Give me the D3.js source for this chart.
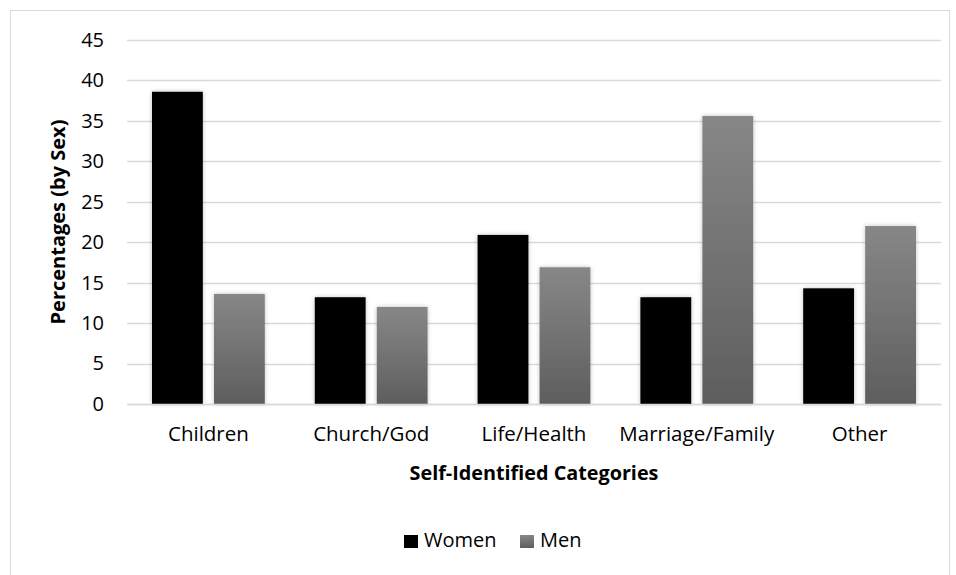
<!DOCTYPE html>
<html>
<head>
<meta charset="utf-8">
<script src="https://cdn.jsdelivr.net/npm/d3@7"></script>
<style>
  body { margin: 0; background: #fff; }
  text { font-family: "Open Sans", sans-serif; fill: #000; }
</style>
</head>
<body>
<script>
// data
var categories = ["Children", "Church/God", "Life/Health", "Marriage/Family", "Other"];
var series = ["Women", "Men"];
var women = [38.6, 13.2, 20.9, 13.2, 14.3];
var men = [13.6, 12.0, 16.9, 35.6, 22.0];
var yTicks = [0, 5, 10, 15, 20, 25, 30, 35, 40, 45];

var width = 956, height = 575;
var margin = {top: 40, right: 15, bottom: 171, left: 127};
var fontFamily = "'Open Sans', sans-serif";

var rows = categories.map(function(c, i) {
  return {category: c, values: [{key: "Women", v: women[i]}, {key: "Men", v: men[i]}]};
});

var svg = d3.select("body").append("svg")
  .attr("width", width)
  .attr("height", height);

var defs = svg.append("defs");
var grad = defs.append("linearGradient")
  .attr("id", "menGrad")
  .attr("x1", 0).attr("y1", 0).attr("x2", 0).attr("y2", 1);
grad.append("stop").attr("offset", "0%").attr("stop-color", "#878787");
grad.append("stop").attr("offset", "100%").attr("stop-color", "#5e5e5e");

var shadow = defs.append("filter").attr("id", "shadow")
  .attr("x", "-20%").attr("y", "-5%").attr("width", "140%").attr("height", "110%");
shadow.append("feDropShadow")
  .attr("dx", 0).attr("dy", 0).attr("stdDeviation", 2)
  .attr("flood-color", "#000").attr("flood-opacity", 0.25);

// chart border
svg.append("rect")
  .attr("x", 10.5).attr("y", 10.5)
  .attr("width", 939).attr("height", 580)
  .attr("fill", "none")
  .attr("stroke", "#d9d9d9");

var x0 = d3.scaleBand()
  .domain(categories)
  .range([margin.left, width - margin.right])
  .paddingInner(0)
  .paddingOuter(0);

var x1 = d3.scaleBand()
  .domain(series)
  .range([25, x0.bandwidth() - 25])
  .paddingInner(0.18);

var y = d3.scaleLinear()
  .domain([0, 45])
  .range([height - margin.bottom, margin.top]);

var color = {Women: "#000", Men: "url(#menGrad)"};

// gridlines
svg.append("g")
  .selectAll("line")
  .data(yTicks)
  .enter()
  .append("line")
  .attr("x1", margin.left)
  .attr("x2", width - margin.right)
  .attr("y1", d => Math.round(y(d)) + 0.5)
  .attr("y2", d => Math.round(y(d)) + 0.5)
  .attr("stroke", "#d9d9d9")
  .attr("stroke-width", 1.5);

// y axis labels
var yAxis = g => g
  .attr("transform", `translate(${margin.left - 23},0)`)
  .call(d3.axisLeft(y).tickValues(yTicks).tickSize(0).tickPadding(0))
  .call(g => g.select(".domain").remove())
  .call(g => g.selectAll("text")
    .attr("font-family", fontFamily)
    .attr("font-size", "20px")
    .attr("fill", "#000"));
svg.append("g").call(yAxis);

// bars
var groups = svg.append("g")
  .selectAll("g")
  .data(rows)
  .enter()
  .append("g")
  .attr("transform", d => `translate(${x0(d.category)},0)`);

groups.selectAll("rect")
  .data(d => d.values)
  .enter()
  .append("rect")
  .attr("x", d => x1(d.key))
  .attr("y", d => y(d.v))
  .attr("width", x1.bandwidth())
  .attr("height", d => y(0) - y(d.v))
  .attr("fill", d => color[d.key])
  .attr("filter", "url(#shadow)");

// x axis
var xAxis = g => g
  .attr("transform", `translate(0,${height - margin.bottom})`)
  .call(d3.axisBottom(x0).tickSize(0).tickPadding(22))
  .call(g => g.select(".domain")
    .attr("stroke", "#d9d9d9")
    .attr("stroke-width", 1.5))
  .call(g => g.selectAll("text")
    .attr("font-family", fontFamily)
    .attr("font-size", "20.5px")
    .attr("fill", "#000"));
svg.append("g").call(xAxis);

// axis titles
svg.append("text")
  .attr("x", (margin.left + width - margin.right) / 2)
  .attr("y", 475)
  .attr("text-anchor", "middle")
  .attr("dominant-baseline", "middle")
  .attr("font-size", "19.8px")
  .attr("font-weight", "bold")
  .text("Self-Identified Categories");

svg.append("text")
  .attr("transform", "translate(60," + y(22.5) + ") rotate(-90)")
  .attr("text-anchor", "middle")
  .attr("dominant-baseline", "middle")
  .attr("font-size", "20px")
  .attr("font-weight", "bold")
  .text("Percentages (by Sex)");

// legend
var legend = svg.append("g");
var legendItems = [{key: "Women", x: 404}, {key: "Men", x: 520}];
legendItems.forEach(function(d) {
  legend.append("rect")
    .attr("x", d.x).attr("y", 535)
    .attr("width", 14).attr("height", 13)
    .attr("fill", color[d.key]);
  legend.append("text")
    .attr("x", d.x + 20).attr("y", 542)
    .attr("dominant-baseline", "middle")
    .attr("font-size", "20px")
    .text(d.key);
});
</script>
</body>
</html>
